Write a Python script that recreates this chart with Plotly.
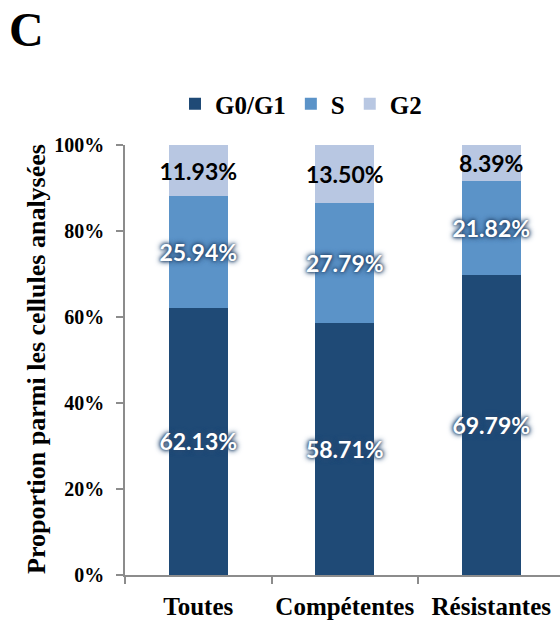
import plotly.graph_objects as go

categories = ["Toutes", "Compétentes", "Résistantes"]
g0g1 = [62.13, 58.71, 69.79]
s_phase = [25.94, 27.79, 21.82]
g2 = [11.93, 13.50, 8.39]
y_ticks = [0, 20, 40, 60, 80, 100]
y_tick_labels = ["0%", "20%", "40%", "60%", "80%", "100%"]

serif = "Liberation Serif"
sans = "Lato"
glow = "0px 0px 3px #24456b, 0px 0px 5px #24456b, 0px 0px 6px #3a5f8a"

series = [
    ("G0/G1", g0g1, "#1F4A76", "white", glow),
    ("S", s_phase, "#5B93C8", "white", glow),
    ("G2", g2, "#B8C7E2", "black", "none"),
]

fig = go.Figure()
for name, vals, color, tcol, shadow in series:
    fig.add_trace(go.Bar(
        name=name, x=categories, y=vals,
        marker=dict(color=color, line=dict(width=0)),
        width=0.4,
        text=[f"{v:.2f}%" for v in vals],
        textposition="inside",
        insidetextanchor="middle",
        textangle=0,
        constraintext="none",
        insidetextfont=dict(family=sans, size=23, color=tcol, weight="bold", shadow=shadow),
        hoverinfo="skip",
    ))

L, R, T, B = 125, 0, 145, 49
H = 624 - T - B
W = 560 - L - R

fig.update_layout(
    width=560, height=624,
    margin=dict(l=L, r=R, t=T, b=B, pad=0, autoexpand=False),
    barmode="stack",
    paper_bgcolor="white", plot_bgcolor="white",
    showlegend=True,
    legend=dict(orientation="h", xref="container", yref="container",
                x=301 / 560, xanchor="center",
                y=1 - 104 / 624, yanchor="middle",
                font=dict(family=serif, size=25, color="black", weight="bold"),
                traceorder="normal", itemwidth=30, tracegroupgap=0),
    xaxis=dict(range=[-0.5, -0.5 + W / 146.5], showgrid=False, showline=True,
               linecolor="#8c8c8c", linewidth=1.5, ticks="outside", tickson="boundaries",
               ticklen=7, tickcolor="#8c8c8c", tickwidth=1.5, automargin=False,
               tickangle=0,
               tickfont=dict(family=serif, size=25, color="black", weight="bold"),
               ticklabelstandoff=8),
    yaxis=dict(range=[0, 100], tickmode="array", tickvals=y_ticks, ticktext=y_tick_labels,
               showgrid=False, automargin=False,
               showline=True, linecolor="#8c8c8c", linewidth=1.5, ticks="outside",
               ticklen=7, tickcolor="#8c8c8c", tickwidth=1.5, zeroline=False,
               tickfont=dict(family=serif, size=20, color="black", weight="bold"),
               ticklabelstandoff=8),
    annotations=[
        dict(text="C", xref="paper", yref="paper", x=(26 - L) / W, y=(575 - 30) / H,
             xanchor="center", yanchor="middle", showarrow=False,
             font=dict(family=serif, size=48, color="black", weight="bold")),
        dict(text="Proportion parmi les cellules analysées", xref="paper", yref="paper",
             x=(36 - L) / W, y=(575 - 359) / H, textangle=-90,
             xanchor="center", yanchor="middle", showarrow=False,
             font=dict(family=serif, size=26, color="black", weight="bold")),
    ],
)

fig.write_html("out.html", config={"displayModeBar": False},
               post_script="document.body.style.margin='0px';")
